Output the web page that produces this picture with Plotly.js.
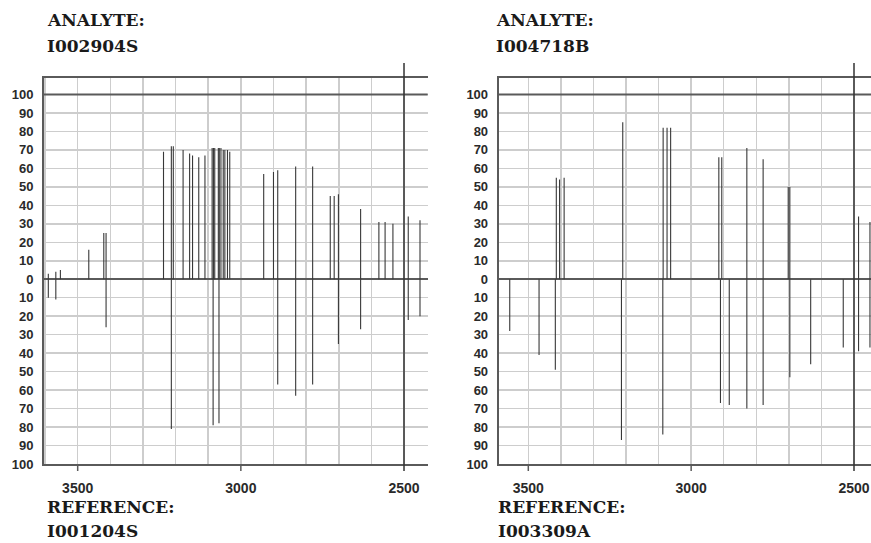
<!DOCTYPE html>
<html>
<head>
<meta charset="utf-8">
<script src="https://cdn.plot.ly/plotly-3.0.1.min.js"></script>
<style>html,body{margin:0;padding:0;background:#fff;}#chart{width:871px;height:543px;}</style>
</head>
<body>
<div id="chart"></div>
<script>
// ---- data (wavenumber, relative intensity) ----
const leftAnalyteWn  = [3590, 3567, 3553, 3466, 3420, 3413, 3237, 3213, 3207, 3177, 3157, 3148, 3129, 3110, 3088, 3084, 3080, 3069, 3066, 3061, 3054, 3049, 3041, 3034, 2930, 2900, 2887, 2832, 2780, 2726, 2714, 2701, 2633, 2577, 2558, 2534, 2487, 2451];
const leftAnalyteInt = [3, 4, 5, 16, 25, 25, 69, 72, 72, 70, 68, 67, 66, 67, 71, 71, 71, 71, 71, 71, 70, 70, 70, 69, 57, 58, 59, 61, 61, 45, 45, 46, 38, 31, 31, 30, 34, 32];
const leftRefWn  = [3590, 3567, 3413, 3213, 3085, 3067, 2887, 2832, 2780, 2701, 2633, 2487, 2451];
const leftRefInt = [10, 11, 26, 81, 79, 78, 57, 63, 57, 35, 27, 22, 20];

const rightAnalyteWn  = [3414, 3404, 3390, 3210, 3086, 3074, 3063, 2915, 2906, 2829, 2779, 2702, 2697, 2486, 2451];
const rightAnalyteInt = [55, 54, 55, 85, 82, 82, 82, 66, 66, 71, 65, 50, 50, 34, 31];
const rightRefWn  = [3557, 3467, 3417, 3214, 3087, 2910, 2883, 2829, 2779, 2697, 2633, 2533, 2486, 2451];
const rightRefInt = [28, 41, 49, 87, 84, 67, 68, 70, 68, 53, 46, 37, 39, 37];

const yTickVals = [-100,-90,-80,-70,-60,-50,-40,-30,-20,-10,0,10,20,30,40,50,60,70,80,90,100];
const yTickText = yTickVals.map(v => String(Math.abs(v)));
const xGridVals = [3600, 3500, 3400, 3300, 3200, 3100, 3000, 2900, 2800, 2700, 2600, 2500];
const xLabelVals = [3500, 3000, 2500];
const xTickText = xGridVals.map(v => xLabelVals.includes(v) ? String(v) : '');

const titles = {
  leftTop: ['ANALYTE:', 'I002904S'],
  leftBottom: ['REFERENCE:', 'I001204S'],
  rightTop: ['ANALYTE:', 'I004718B'],
  rightBottom: ['REFERENCE:', 'I003309A']
};

// ---- helpers ----
function stems(wn, inten, sign) {
  const xs = [], ys = [];
  wn.forEach((w, i) => { xs.push(w, w, null); ys.push(0, sign * inten[i], null); });
  return {x: xs, y: ys};
}
const W = 871, H = 543;
const px = v => v / W;
const py = v => (H - v) / H;

const stemLine = {color: '#383838', width: 1.1};
const traces = [];
[[leftAnalyteWn, leftAnalyteInt, 1, 'x', 'y'], [leftRefWn, leftRefInt, -1, 'x', 'y'],
 [rightAnalyteWn, rightAnalyteInt, 1, 'x2', 'y2'], [rightRefWn, rightRefInt, -1, 'x2', 'y2']]
 .forEach(([w, v, s, xa, ya]) => {
   const d = stems(w, v, s);
   traces.push({type: 'scatter', mode: 'lines', x: d.x, y: d.y, xaxis: xa, yaxis: ya,
                line: stemLine, hoverinfo: 'skip', showlegend: false, connectgaps: false});
 });

const TOP = 78, ZERO100 = 94.5, BOT = 464;
const pxPerUnit = (BOT - ZERO100) / 200;
const yTop = 100 + (ZERO100 - TOP) / pxPerUnit;

const tickFontY = {family: 'Liberation Sans, Arial, sans-serif', size: 13, color: '#2a2a2a', weight: 'bold'};
const tickFontX = {family: 'Liberation Sans, Arial, sans-serif', size: 14, color: '#2a2a2a', weight: 'bold'};
const dark = '#5a5a5a';
const grid = '#cdcdcd';

function xAxis(domain, range, anchor) {
  return {domain: domain, range: range, anchor: anchor, tickmode: 'array', tickvals: xGridVals, ticktext: xTickText,
          showgrid: true, gridcolor: grid, gridwidth: 1.5, ticks: '',
          ticklabelstandoff: 10, tickfont: tickFontX, showline: true, linecolor: dark, linewidth: 2, mirror: true,
          zeroline: false, fixedrange: true};
}
function yAxis(anchor) {
  return {domain: [py(BOT), py(TOP)], range: [-100, yTop], anchor: anchor, tickmode: 'array', tickvals: yTickVals, ticktext: yTickText,
          showgrid: true, gridcolor: grid, gridwidth: 1.5, ticks: '', ticklabelstandoff: 6, tickfont: tickFontY,
          showline: true, linecolor: dark, linewidth: 2, zeroline: true, zerolinecolor: dark, zerolinewidth: 2, fixedrange: true};
}

const leftDom = [px(44), px(427.7)];
const rightDom = [px(498.7), 1];
const leftRange = [3500 + (77.7 - 44) / 0.3265, 2500 - (427.7 - 404) / 0.3265];
const rightRange = [3500 + (528.3 - 498.7) / 0.3257, 2500 - (871 - 854) / 0.3257];

const shapes = [];
['x', 'x2'].forEach((xa, i) => {
  const ya = i === 0 ? 'y' : 'y2';
  shapes.push({type: 'line', xref: xa + ' domain', yref: ya, x0: 0, x1: 1, y0: 100, y1: 100, line: {color: dark, width: 2}, layer: 'above'});
  shapes.push({type: 'line', xref: xa, yref: 'paper', x0: 2500, x1: 2500, y0: py(471), y1: py(63), line: {color: '#333', width: 1.5}, layer: 'above'});
  xLabelVals.slice(0, 2).forEach(v => {
    shapes.push({type: 'line', xref: xa, yref: 'paper', x0: v, x1: v, y0: py(464), y1: py(471), line: {color: dark, width: 1.5}, layer: 'above'});
  });
});

const serif = {family: 'DejaVu Serif, Liberation Serif, serif', size: 17, color: '#1a1a1a', weight: 'bold'};
const ann = [];
function addTitle(x, y, txt) {
  ann.push({xref: 'paper', yref: 'paper', x: px(x), y: py(y), xanchor: 'left', yanchor: 'middle', text: txt, showarrow: false, font: serif});
}
addTitle(45, 20, titles.leftTop[0]);  addTitle(45, 46, titles.leftTop[1]);
addTitle(45, 507, titles.leftBottom[0]); addTitle(45, 531, titles.leftBottom[1]);
addTitle(494, 20, titles.rightTop[0]); addTitle(494, 46, titles.rightTop[1]);
addTitle(496, 507, titles.rightBottom[0]); addTitle(496, 531, titles.rightBottom[1]);

const layout = {
  width: W, height: H, margin: {l: 0, r: 0, t: 0, b: 0}, paper_bgcolor: '#fff', plot_bgcolor: '#fff',
  showlegend: false,
  xaxis: xAxis(leftDom, leftRange, 'y'),
  yaxis: yAxis('x'),
  xaxis2: xAxis(rightDom, rightRange, 'y2'),
  yaxis2: yAxis('x2'),
  shapes: shapes, annotations: ann
};
Plotly.newPlot('chart', traces, layout, {staticPlot: true, displayModeBar: false});
</script>
</body>
</html>
